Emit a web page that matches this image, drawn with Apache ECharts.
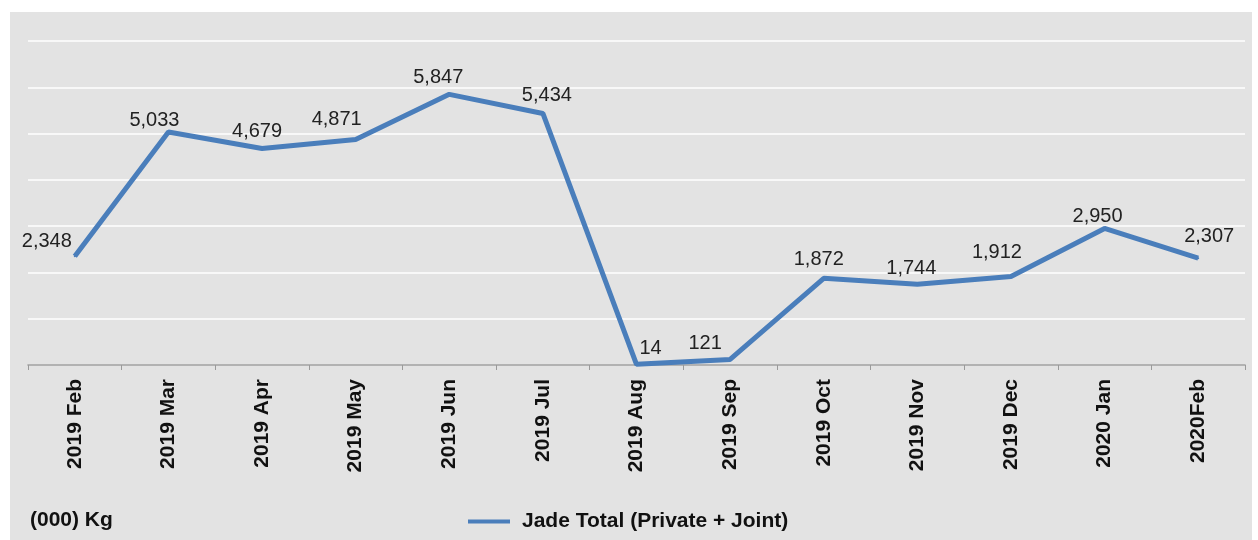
<!DOCTYPE html>
<html><head><meta charset="utf-8">
<script src="https://cdn.jsdelivr.net/npm/echarts@6/dist/echarts.min.js"></script>
<style>html,body{margin:0;padding:0;background:#fff}#c{width:1258px;height:540px}</style>
</head><body><div id="c"></div>
<script>
var categories = ['2019 Feb','2019 Mar','2019 Apr','2019 May','2019 Jun','2019 Jul','2019 Aug','2019 Sep','2019 Oct','2019 Nov','2019 Dec','2020 Jan','2020Feb'];
var jadeTotal = [2348,5033,4679,4871,5847,5434,14,121,1872,1744,1912,2950,2307];
var seriesName = 'Jade Total (Private + Joint)';
var unitLabel = '(000) Kg';

var FONT = 'Liberation Sans, Arial, sans-serif';
var labelPos = ['left','top','top','top','top','top','top','top','top','top','top','top','top'];
var labelOff = [[3,-15],[-14,4],[-5,-1],[-19,-4],[-11,-1],[4,-2],[14,0],[-25,0],[-5,-3],[-6,0],[-14,-8],[-7,4],[11,-6]];
var data = jadeTotal.map(function(v,i){
  return {value:v, label:{position:labelPos[i], offset:labelOff[i]}};
});

var chart = echarts.init(document.getElementById('c'));
chart.setOption({
  animation:false,
  textStyle:{fontFamily:FONT},
  graphic:[
    {type:'rect',left:10,top:12,shape:{width:1242,height:528},style:{fill:'#e3e3e3'},z:-10},
    {type:'text',left:30,top:510,style:{text:unitLabel,fontSize:21,fontWeight:'bold',fill:'#111',fontFamily:FONT}}
  ],
  grid:{left:28,right:13,top:41,bottom:175},
  xAxis:{type:'category',data:categories,boundaryGap:true,
    axisLine:{lineStyle:{color:'#9a9a9a',width:1.5}},
    axisTick:{show:true,length:5,lineStyle:{color:'#9a9a9a'}},
    axisLabel:{rotate:90,fontSize:21,fontWeight:'bold',color:'#111',margin:14,fontFamily:FONT}},
  yAxis:{type:'value',min:0,max:7000,interval:1000,
    axisLabel:{show:false},axisLine:{show:false},axisTick:{show:false},
    splitLine:{lineStyle:{color:'#ffffff',width:1.5}}},
  legend:{top:506,left:463,itemWidth:42,itemHeight:4,icon:'rect',itemGap:10,
    textStyle:{fontSize:21,fontWeight:'bold',color:'#111',fontFamily:FONT,padding:[0,0,0,7]},
    data:[seriesName]},
  series:[{name:seriesName,type:'line',data:data,symbol:'circle',symbolSize:2,showSymbol:true,
    lineStyle:{color:'#4a7ebb',width:5},itemStyle:{color:'#4a7ebb'},
    label:{show:true,fontSize:20,color:'#222',distance:5,fontFamily:FONT,
      formatter:function(p){return p.value.toLocaleString('en-US');}}}]
});
</script></body></html>
